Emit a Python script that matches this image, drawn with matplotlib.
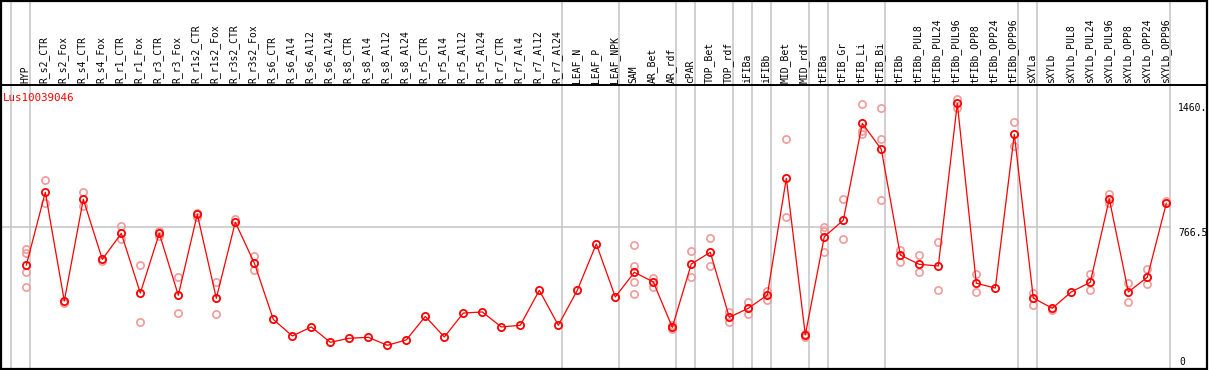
import matplotlib
matplotlib.use('Agg')
import matplotlib.pyplot as plt
from matplotlib.patches import Rectangle
from matplotlib.lines import Line2D
import matplotlib.transforms as mtransforms

gene = 'Lus10039046'

samples = ['HYP', 'R_s2_CTR', 'R_s2_Fox', 'R_s4_CTR', 'R_s4_Fox', 'R_r1_CTR', 'R_r1_Fox',
           'R_r3_CTR', 'R_r3_Fox', 'R_r1s2_CTR', 'R_r1s2_Fox', 'R_r3s2_CTR', 'R_r3s2_Fox',
           'R_s6_CTR', 'R_s6_Al4', 'R_s6_Al12', 'R_s6_Al24', 'R_s8_CTR', 'R_s8_Al4',
           'R_s8_Al12', 'R_s8_Al24', 'R_r5_CTR', 'R_r5_Al4', 'R_r5_Al12', 'R_r5_Al24',
           'R_r7_CTR', 'R_r7_Al4', 'R_r7_Al12', 'R_r7_Al24', 'LEAF_N', 'LEAF_P', 'LEAF_NPK',
           'SAM', 'AR_Bet', 'AR_rdf', 'cPAR', 'TOP_Bet', 'TOP_rdf', 'iFIBa', 'iFIBb',
           'MID_Bet', 'MID_rdf', 'tFIBa', 'tFIB_Gr', 'tFIB_Li', 'tFIB_Bi', 'tFIBb',
           'tFIBb_PUL8', 'tFIBb_PUL24', 'tFIBb_PUL96', 'tFIBb_OPP8', 'tFIBb_OPP24',
           'tFIBb_OPP96', 'sXYLa', 'sXYLb', 'sXYLb_PUL8', 'sXYLb_PUL24', 'sXYLb_PUL96',
           'sXYLb_OPP8', 'sXYLb_OPP24', 'sXYLb_OPP96']

# number of samples in each tissue group (grey separators)
group_sizes = [1, 28, 3, 3, 1, 2, 1, 1, 2, 1, 3, 7, 1, 7]

means = [561, 954, 367, 916, 592, 732, 410, 732, 398, 835, 382, 792, 572,
         268, 178, 227, 144, 166, 171, 128, 157, 284, 173, 302, 308,
         227, 236, 425, 236, 425, 675, 389,
         522, 470, 225, 567, 630, 279, 328, 399, 1029, 184,
         714, 803, 1326, 1186, 615, 565, 556, 1434, 463, 437, 1267,
         383, 328, 416, 468, 918, 416, 495, 894]

replicates = {
    'HYP': [646, 628, 522, 441],
    'R_s2_CTR': [1018, 894],
    'R_s2_Fox': [355],
    'R_s4_CTR': [954, 880],
    'R_s4_Fox': [583],
    'R_r1_CTR': [772, 700],
    'R_r1_Fox': [560, 252],
    'R_r3_CTR': [743, 718],
    'R_r3_Fox': [495, 301],
    'R_r1s2_CTR': [840, 822],
    'R_r1s2_Fox': [468, 297],
    'R_r3s2_CTR': [808],
    'R_r3s2_Fox': [610, 533],
    'SAM': [669, 556, 468, 403],
    'AR_Bet': [493, 444],
    'AR_rdf': [236, 216],
    'cPAR': [635, 495],
    'TOP_Bet': [705, 554],
    'TOP_rdf': [309, 252],
    'iFIBa': [362, 299],
    'iFIBb': [423, 374],
    'MID_Bet': [1240, 819],
    'MID_rdf': [171, 190],
    'tFIBa': [767, 745, 633],
    'tFIB_Gr': [916, 700],
    'tFIB_Li': [1430, 1285, 1267],
    'tFIB_Bi': [1407, 1240, 911],
    'tFIBb': [642, 579],
    'tFIBb_PUL8': [615, 522],
    'tFIBb_PUL24': [684, 426],
    'tFIBb_PUL96': [1460, 1407],
    'tFIBb_OPP8': [513, 416],
    'tFIBb_OPP96': [1332, 1205],
    'sXYLa': [412, 345],
    'sXYLb': [318],
    'sXYLb_PUL24': [513, 425],
    'sXYLb_PUL96': [943, 894],
    'sXYLb_OPP8': [464, 362],
    'sXYLb_OPP24': [540, 457],
    'sXYLb_OPP96': [907],
}

W, H = 1209, 370
fig = plt.figure(figsize=(W / 100, H / 100), dpi=100)
ax = fig.add_axes([1 / W, 1 / H, 1170 / W, 284 / H])

top_val = max(max(v) for v in replicates.values())
ax.set_xlim(-1.332, 60.247)
ax.set_ylim(0, top_val * 1.05)
for s in ax.spines.values():
    s.set_visible(False)
ax.set_xticks([])
ax.set_yticks([])

grey = '#c4c4c4'
# group separators, full height through the header
bounds = [-1]
pos = -1
for g in group_sizes:
    pos += g
    bounds.append(pos)
for b in bounds:
    ax.axvline(b + 0.2, ymin=0, ymax=369 / 284, color=grey, lw=1.1, clip_on=False, zorder=0)

mid = top_val * 1.05 / 2
ax.axhline(mid, color=grey, lw=1.1, zorder=0)

xs = list(range(len(samples)))

# replicate samples
rx, ry = [], []
for i, name in enumerate(samples):
    for v in replicates.get(name, []):
        rx.append(i)
        ry.append(v)
ax.plot(rx, ry, linestyle='none', marker='o', ms=5.2, mfc='none', mec='#f09a9a',
        mew=1.2, zorder=2, clip_on=False)

ax.plot(xs, means, color='red', lw=0.9, marker='o', ms=5.2, mfc='none', mec='red',
        mew=1.3, zorder=3, clip_on=False)

# sample labels in the header
trans = mtransforms.blended_transform_factory(ax.transData, ax.transAxes)
for i, name in enumerate(samples):
    ax.text(i - 0.05, 1.008, name, rotation=90, ha='center', va='bottom',
            family='DejaVu Sans Mono', fontsize=7, transform=trans)

ax.text(2 / 1170, (369 - 98) / 284, gene, color='red', family='DejaVu Sans Mono',
        fontsize=7.8, ha='left', va='center', transform=ax.transAxes)

# value labels at right
rtrans = mtransforms.blended_transform_factory(ax.transAxes, ax.transData)
xr = (1178 - 1) / 1170
ax.annotate('%.0f.' % top_val, (xr, top_val), xycoords=rtrans, xytext=(0, -6.6),
            textcoords='offset points', ha='left', va='center',
            family='DejaVu Sans Mono', fontsize=7)
ax.annotate('%.1f' % mid, (xr, mid), xycoords=rtrans, xytext=(0, -4.1),
            textcoords='offset points', ha='left', va='center',
            family='DejaVu Sans Mono', fontsize=7)
ax.annotate('0', (xr + 1 / 1170, 0), xycoords=rtrans, xytext=(0, 5.3),
            textcoords='offset points', ha='left', va='center',
            family='DejaVu Sans Mono', fontsize=7)

# outer frame and header divider
fig.add_artist(Rectangle((1 / W, 1 / H), 1206 / W, 368.5 / H, fill=False, ec='black',
                         lw=1.6, transform=fig.transFigure))
fig.add_artist(Line2D([1 / W, 1207 / W], [(H - 85) / H, (H - 85) / H], color='black',
                      lw=1.4, transform=fig.transFigure))

fig.savefig('out.png', dpi=100)
